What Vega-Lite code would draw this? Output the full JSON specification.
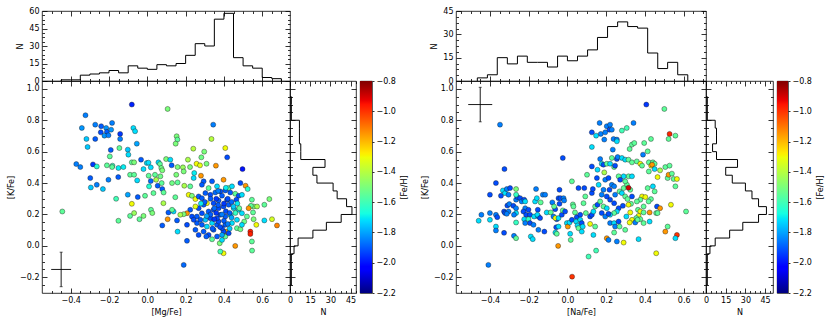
{
"$schema": "https://vega.github.io/schema/vega-lite/v6.json",
"padding": {"left": 7, "top": 6, "right": 2, "bottom": 2},
"config": {
  "font": "DejaVu Sans",
  "view": {"stroke": "black", "strokeWidth": 0.8},
  "axis": {"domain": false, "grid": false, "labelFont": "DejaVu Sans", "labelFontSize": 8, "labelColor": "black", "titleFont": "DejaVu Sans", "titleFontSize": 8, "titleFontWeight": "normal", "titleColor": "black", "tickColor": "black", "tickWidth": 0.8, "labelFlush": false, "labelOverlap": false, "titlePadding": 4, "zindex": 1}
},
"datasets": {
"sL": [
{"x":-0.081,"y":0.900,"f":-1.98},{"x":-0.323,"y":0.832,"f":-1.85},{"x":-0.342,"y":0.751,"f":-1.82},{"x":-0.272,"y":0.772,"f":-1.85},{"x":-0.318,"y":0.681,"f":-1.75},{"x":-0.272,"y":0.681,"f":-1.9},{"x":-0.241,"y":0.762,"f":-1.9},{"x":-0.215,"y":0.751,"f":-1.82},{"x":-0.211,"y":0.726,"f":-1.9},{"x":-0.243,"y":0.723,"f":-1.92},{"x":-0.224,"y":0.702,"f":-1.82},{"x":-0.203,"y":0.704,"f":-1.85},{"x":-0.189,"y":0.740,"f":-1.82},{"x":-0.184,"y":0.783,"f":-1.85},{"x":-0.312,"y":0.630,"f":-1.75},{"x":-0.142,"y":0.713,"f":-1.95},{"x":-0.142,"y":0.681,"f":-1.85},{"x":-0.073,"y":0.751,"f":-1.72},{"x":-0.064,"y":0.730,"f":-1.72},{"x":-0.055,"y":0.651,"f":-1.8},{"x":-0.102,"y":0.613,"f":-1.75},{"x":-0.099,"y":0.581,"f":-1.72},{"x":-0.191,"y":0.611,"f":-1.9},{"x":-0.146,"y":0.623,"f":-1.55},{"x":-0.196,"y":0.570,"f":-1.55},{"x":-0.182,"y":0.511,"f":-1.62},{"x":-0.371,"y":0.521,"f":-1.85},{"x":-0.350,"y":0.502,"f":-1.85},{"x":-0.284,"y":0.519,"f":-1.95},{"x":-0.264,"y":0.506,"f":-1.65},{"x":-0.211,"y":0.513,"f":-1.55},{"x":-0.184,"y":0.502,"f":-1.55},{"x":-0.151,"y":0.496,"f":-1.7},{"x":-0.125,"y":0.502,"f":-1.7},{"x":-0.081,"y":0.532,"f":-1.55},{"x":-0.069,"y":0.532,"f":-1.5},{"x":-0.033,"y":0.549,"f":-1.9},{"x":-0.003,"y":0.528,"f":-1.72},{"x":0.006,"y":0.530,"f":-1.72},
{"x":-0.298,"y":0.432,"f":-1.9},{"x":-0.295,"y":0.372,"f":-1.75},{"x":-0.264,"y":0.389,"f":-1.85},{"x":-0.232,"y":0.362,"f":-1.75},{"x":-0.203,"y":0.421,"f":-1.85},{"x":-0.152,"y":0.438,"f":-1.9},{"x":-0.163,"y":0.300,"f":-1.6},{"x":-0.102,"y":0.326,"f":-1.8},{"x":-0.090,"y":0.453,"f":-1.55},{"x":-0.081,"y":0.268,"f":-1.3},{"x":-0.069,"y":0.453,"f":-1.55},{"x":-0.053,"y":0.417,"f":-1.72},{"x":-0.050,"y":0.311,"f":-1.9},{"x":-0.020,"y":0.489,"f":-1.72},{"x":-0.012,"y":0.319,"f":-1.55},{"x":0.007,"y":0.447,"f":-1.55},{"x":0.018,"y":0.413,"f":-1.88},{"x":0.009,"y":0.379,"f":-1.65},{"x":0.032,"y":0.336,"f":-1.55},{"x":0.040,"y":0.453,"f":-1.55},{"x":0.046,"y":0.421,"f":-1.42},{"x":0.054,"y":0.383,"f":-1.9},{"x":0.068,"y":0.443,"f":-1.52},{"x":0.075,"y":0.400,"f":-1.55},{"x":0.078,"y":0.362,"f":-1.9},{"x":0.084,"y":0.272,"f":-1.42},{"x":0.085,"y":0.340,"f":-1.55},{"x":-0.444,"y":0.219,"f":-1.55},{"x":-0.151,"y":0.160,"f":-1.55},{"x":-0.090,"y":0.191,"f":-1.55},{"x":-0.069,"y":0.209,"f":-1.45},{"x":-0.041,"y":0.170,"f":-1.55},{"x":-0.020,"y":0.191,"f":-1.5},{"x":0.019,"y":0.230,"f":-1.55},{"x":0.026,"y":0.209,"f":-1.5},{"x":0.078,"y":0.130,"f":-1.9},{"x":0.110,"y":0.213,"f":-1.9},{"x":0.106,"y":0.170,"f":-1.15},
{"x":0.106,"y":0.872,"f":-1.5},{"x":0.153,"y":0.698,"f":-1.5},{"x":0.157,"y":0.677,"f":-1.55},{"x":0.148,"y":0.651,"f":-1.5},{"x":0.335,"y":0.681,"f":-1.4},{"x":0.344,"y":0.772,"f":-1.85},{"x":0.240,"y":0.619,"f":-1.4},{"x":0.297,"y":0.600,"f":-1.5},{"x":0.407,"y":0.623,"f":-1.3},{"x":0.417,"y":0.564,"f":-1.92},{"x":0.212,"y":0.549,"f":-1.42},{"x":0.282,"y":0.564,"f":-1.52},{"x":0.098,"y":0.553,"f":-1.5},{"x":0.120,"y":0.549,"f":-1.72},{"x":0.018,"y":0.500,"f":-1.72},{"x":0.058,"y":0.532,"f":-1.72},{"x":0.066,"y":0.521,"f":-1.55},{"x":0.073,"y":0.496,"f":-1.52},{"x":0.078,"y":0.481,"f":-1.5},{"x":0.127,"y":0.513,"f":-1.9},{"x":0.158,"y":0.502,"f":-1.5},{"x":0.186,"y":0.500,"f":-1.45},{"x":0.257,"y":0.523,"f":-1.3},{"x":0.275,"y":0.513,"f":-1.32},{"x":0.309,"y":0.523,"f":-1.5},{"x":0.358,"y":0.511,"f":-1.15},{"x":0.497,"y":0.489,"f":-2.0},{"x":0.223,"y":0.502,"f":-1.5},
{"x":0.151,"y":0.453,"f":-1.5},{"x":0.190,"y":0.474,"f":-1.5},{"x":0.245,"y":0.464,"f":-1.7},{"x":0.280,"y":0.447,"f":-1.15},{"x":0.242,"y":0.432,"f":-1.72},{"x":0.294,"y":0.411,"f":-1.9},{"x":0.158,"y":0.404,"f":-1.55},{"x":0.129,"y":0.400,"f":-1.52},{"x":0.193,"y":0.383,"f":-1.42},{"x":0.224,"y":0.379,"f":-1.55},{"x":0.285,"y":0.389,"f":-1.9},{"x":0.338,"y":0.411,"f":-1.9},{"x":0.398,"y":0.421,"f":-1.15},{"x":0.320,"y":0.368,"f":-1.55},{"x":0.364,"y":0.379,"f":-1.72},{"x":0.425,"y":0.368,"f":-1.55},{"x":0.442,"y":0.379,"f":-1.72},{"x":0.486,"y":0.400,"f":-1.92},{"x":0.513,"y":0.383,"f":-1.15},{"x":0.524,"y":0.362,"f":-1.65},{"x":0.146,"y":0.310,"f":-1.55},{"x":0.216,"y":0.325,"f":-1.3},{"x":0.233,"y":0.319,"f":-1.5},{"x":0.251,"y":0.298,"f":-1.3},{"x":0.268,"y":0.315,"f":-1.9},{"x":0.285,"y":0.304,"f":-1.9},{"x":0.303,"y":0.336,"f":-1.9},{"x":0.329,"y":0.325,"f":-1.92},{"x":0.355,"y":0.340,"f":-1.88},{"x":0.381,"y":0.347,"f":-1.92},{"x":0.407,"y":0.353,"f":-1.9},{"x":0.433,"y":0.340,"f":-1.9},{"x":0.459,"y":0.332,"f":-1.55},{"x":0.477,"y":0.319,"f":-1.92},{"x":0.494,"y":0.325,"f":-1.72},{"x":0.546,"y":0.294,"f":-1.55},{"x":0.555,"y":0.251,"f":-1.5},{"x":0.573,"y":0.251,"f":-1.42},{"x":0.541,"y":0.255,"f":-1.55},{"x":0.611,"y":0.262,"f":-1.55},{"x":0.637,"y":0.298,"f":-1.5},{"x":0.465,"y":0.294,"f":-1.92},{"x":0.416,"y":0.294,"f":-1.92},{"x":0.372,"y":0.289,"f":-1.9},{"x":0.346,"y":0.272,"f":-1.92},{"x":0.311,"y":0.272,"f":-1.3},{"x":0.294,"y":0.262,"f":-1.9},{"x":0.268,"y":0.240,"f":-1.92},{"x":0.251,"y":0.251,"f":-1.32},{"x":0.224,"y":0.230,"f":-1.9},{"x":0.207,"y":0.208,"f":-1.15},{"x":0.190,"y":0.202,"f":-1.5},{"x":0.172,"y":0.198,"f":-1.42},{"x":0.137,"y":0.219,"f":-1.72},{"x":0.129,"y":0.230,"f":-1.55},{"x":0.233,"y":0.187,"f":-1.92},{"x":0.259,"y":0.187,"f":-1.9},{"x":0.285,"y":0.208,"f":-1.92},{"x":0.320,"y":0.219,"f":-1.9},{"x":0.346,"y":0.230,"f":-1.92},{"x":0.372,"y":0.240,"f":-1.92},{"x":0.398,"y":0.251,"f":-1.92},{"x":0.425,"y":0.262,"f":-1.9},{"x":0.451,"y":0.240,"f":-1.72},{"x":0.477,"y":0.230,"f":-1.72},{"x":0.494,"y":0.208,"f":-1.72},{"x":0.529,"y":0.240,"f":-1.15},{"x":0.552,"y":0.213,"f":-1.55},{"x":0.520,"y":0.187,"f":-1.55},{"x":0.506,"y":0.155,"f":-1.52},{"x":0.555,"y":0.170,"f":-1.5},{"x":0.569,"y":0.134,"f":-1.3},{"x":0.611,"y":0.162,"f":-1.72},{"x":0.651,"y":0.170,"f":-1.35},{"x":0.677,"y":0.130,"f":-1.12},{"x":0.546,"y":0.028,"f":-1.55},{"x":0.547,"y":-0.030,"f":-1.55},{"x":0.538,"y":0.091,"f":-0.97},{"x":0.538,"y":0.076,"f":-0.97},{"x":0.459,"y":0.000,"f":-1.15},{"x":0.398,"y":-0.047,"f":-1.3},{"x":0.381,"y":-0.036,"f":-1.6},{"x":0.378,"y":0.017,"f":-1.5},{"x":0.390,"y":0.038,"f":-1.72},{"x":0.407,"y":0.060,"f":-1.55},{"x":0.411,"y":0.091,"f":-1.15},{"x":0.398,"y":0.091,"f":-1.92},{"x":0.425,"y":0.081,"f":-1.92},{"x":0.407,"y":0.134,"f":-1.9},{"x":0.390,"y":0.113,"f":-1.92},{"x":0.364,"y":0.134,"f":-1.9},{"x":0.338,"y":0.145,"f":-1.72},{"x":0.311,"y":0.123,"f":-1.72},{"x":0.285,"y":0.134,"f":-1.9},{"x":0.259,"y":0.145,"f":-1.9},{"x":0.242,"y":0.166,"f":-1.92},{"x":0.207,"y":0.134,"f":-1.92},{"x":0.155,"y":0.162,"f":-1.9},{"x":0.158,"y":0.091,"f":-1.72},{"x":0.207,"y":0.032,"f":-1.9},{"x":0.190,"y":-0.121,"f":-1.88},{"x":0.294,"y":0.091,"f":-1.9},{"x":0.320,"y":0.070,"f":-1.92},{"x":0.346,"y":0.102,"f":-1.9},{"x":0.372,"y":0.155,"f":-1.92},{"x":0.468,"y":0.113,"f":-1.55},{"x":0.486,"y":0.106,"f":-1.52},{"x":0.442,"y":0.145,"f":-1.72},{"x":0.468,"y":0.166,"f":-1.72},{"x":0.494,"y":0.134,"f":-1.72},{"x":0.433,"y":0.198,"f":-1.7},{"x":0.407,"y":0.187,"f":-1.9},{"x":0.381,"y":0.198,"f":-1.92},{"x":0.364,"y":0.176,"f":-1.92},{"x":0.329,"y":0.176,"f":-1.92},{"x":0.303,"y":0.166,"f":-1.75},{"x":0.277,"y":0.166,"f":-1.9},{"x":0.251,"y":0.102,"f":-1.9},{"x":0.268,"y":0.070,"f":-1.92},{"x":0.308,"y":0.060,"f":-1.9},{"x":0.338,"y":0.042,"f":-1.55},{"x":0.364,"y":0.060,"f":-1.9},
{"x":0.36,"y":0.30,"f":-1.95},{"x":0.39,"y":0.32,"f":-1.9},{"x":0.42,"y":0.30,"f":-1.92},{"x":0.44,"y":0.28,"f":-1.88},{"x":0.40,"y":0.27,"f":-1.95},{"x":0.37,"y":0.26,"f":-1.9},{"x":0.35,"y":0.24,"f":-1.88},{"x":0.41,"y":0.22,"f":-1.92},{"x":0.43,"y":0.21,"f":-1.9},{"x":0.39,"y":0.20,"f":-1.85},{"x":0.36,"y":0.21,"f":-1.95},{"x":0.33,"y":0.20,"f":-1.9},{"x":0.31,"y":0.19,"f":-1.8},{"x":0.45,"y":0.25,"f":-1.75},{"x":0.47,"y":0.27,"f":-1.7},{"x":0.40,"y":0.16,"f":-1.9},{"x":0.42,"y":0.14,"f":-1.85},{"x":0.38,"y":0.12,"f":-1.92},{"x":0.34,"y":0.11,"f":-1.9},{"x":0.44,"y":0.18,"f":-1.8},{"x":0.30,"y":0.28,"f":-1.9},{"x":0.28,"y":0.27,"f":-1.7},{"x":0.46,"y":0.21,"f":-1.62},{"x":0.48,"y":0.24,"f":-1.55},{"x":0.37,"y":0.35,"f":-1.85},{"x":0.41,"y":0.37,"f":-1.7},{"x":0.33,"y":0.30,"f":-1.9},{"x":0.43,"y":0.11,"f":-1.75},{"x":0.39,"y":0.07,"f":-1.8},{"x":0.35,"y":0.17,"f":-1.95}
],
"sR": [
{"x":-0.348,"y":0.772,"f":-1.85},{"x":-0.325,"y":0.489,"f":-1.92},{"x":-0.400,"y":0.326,"f":-1.92},{"x":-0.369,"y":0.400,"f":-1.92},{"x":-0.444,"y":0.198,"f":-1.85},{"x":-0.458,"y":0.160,"f":-1.72},{"x":-0.400,"y":0.166,"f":-1.72},{"x":-0.400,"y":0.209,"f":-1.85},{"x":-0.369,"y":0.198,"f":-1.85},{"x":-0.362,"y":0.183,"f":-1.92},{"x":-0.369,"y":0.123,"f":-1.72},{"x":-0.369,"y":0.098,"f":-1.85},{"x":-0.408,"y":-0.121,"f":-1.85},{"x":-0.343,"y":0.319,"f":-1.92},{"x":-0.333,"y":0.353,"f":-1.72},{"x":-0.322,"y":0.336,"f":-1.72},{"x":-0.313,"y":0.362,"f":-1.85},{"x":-0.296,"y":0.368,"f":-1.92},{"x":-0.304,"y":0.326,"f":-1.85},{"x":-0.327,"y":0.219,"f":-1.92},{"x":-0.322,"y":0.209,"f":-1.92},{"x":-0.310,"y":0.257,"f":-1.92},{"x":-0.300,"y":0.266,"f":-1.85},{"x":-0.304,"y":0.219,"f":-1.85},{"x":-0.313,"y":0.204,"f":-1.85},{"x":-0.327,"y":0.083,"f":-1.92},{"x":-0.265,"y":0.294,"f":-1.85},{"x":-0.258,"y":0.311,"f":-1.92},{"x":-0.265,"y":0.326,"f":-1.62},{"x":-0.265,"y":0.362,"f":-1.5},{"x":-0.279,"y":0.255,"f":-1.92},{"x":-0.265,"y":0.240,"f":-1.85},{"x":-0.265,"y":0.209,"f":-1.72},{"x":-0.276,"y":0.198,"f":-1.85},{"x":-0.265,"y":0.149,"f":-1.62},{"x":-0.276,"y":0.064,"f":-1.85},{"x":-0.265,"y":0.049,"f":-1.55},{"x":-0.244,"y":0.304,"f":-1.92},{"x":-0.236,"y":0.283,"f":-1.85},{"x":-0.223,"y":0.294,"f":-1.92},{"x":-0.218,"y":0.283,"f":-1.72},{"x":-0.218,"y":0.240,"f":-1.85},{"x":-0.227,"y":0.219,"f":-1.92},{"x":-0.213,"y":0.198,"f":-1.92},{"x":-0.223,"y":0.170,"f":-1.72},{"x":-0.218,"y":0.145,"f":-1.85},{"x":-0.201,"y":0.230,"f":-1.92},{"x":-0.193,"y":0.198,"f":-1.92},{"x":-0.201,"y":0.170,"f":-1.62},{"x":-0.193,"y":0.145,"f":-1.92},{"x":-0.175,"y":0.134,"f":-1.85},{"x":-0.189,"y":0.060,"f":-1.72},{"x":-0.179,"y":0.043,"f":-1.72},{"x":-0.172,"y":0.187,"f":-1.72},{"x":-0.167,"y":0.283,"f":-1.72},{"x":-0.158,"y":0.304,"f":-1.72},{"x":-0.162,"y":0.362,"f":-1.85},{"x":-0.153,"y":0.230,"f":-1.92},{"x":-0.150,"y":0.187,"f":-1.85},{"x":-0.155,"y":0.198,"f":-1.72},{"x":-0.141,"y":0.177,"f":-1.92},{"x":-0.138,"y":0.277,"f":-1.55},{"x":-0.127,"y":0.326,"f":-1.85},{"x":-0.115,"y":0.326,"f":-1.85},{"x":-0.119,"y":0.091,"f":-1.92},{"x":-0.150,"y":0.102,"f":-1.85},{"x":-0.107,"y":0.213,"f":-1.72},{"x":-0.086,"y":0.213,"f":-1.55},{"x":-0.078,"y":0.277,"f":-1.85},{"x":-0.072,"y":0.187,"f":-1.85},{"x":-0.063,"y":0.234,"f":-1.92},{"x":-0.055,"y":0.170,"f":-1.92},{"x":-0.058,"y":0.119,"f":-1.92},{"x":-0.062,"y":0.085,"f":-1.72},{"x":-0.055,"y":0.077,"f":-1.55},{"x":-0.069,"y":0.251,"f":-1.55},{"x":-0.062,"y":0.177,"f":-1.3},{"x":-0.048,"y":0.000,"f":-1.15},{"x":-0.046,"y":0.177,"f":-1.72},{"x":-0.046,"y":0.123,"f":-1.72},{"x":-0.041,"y":0.357,"f":-1.92},{"x":-0.046,"y":0.304,"f":-1.92},{"x":-0.041,"y":0.268,"f":-1.92},{"x":-0.036,"y":0.304,"f":-1.92},{"x":-0.024,"y":0.560,"f":-1.92},{"x":-0.020,"y":0.304,"f":-1.85},{"x":-0.017,"y":0.289,"f":-1.85},{"x":-0.029,"y":0.198,"f":-1.92},{"x":-0.024,"y":0.226,"f":-1.55},{"x":-0.012,"y":0.219,"f":-1.92},{"x":-0.003,"y":0.145,"f":-1.72},{"x":0.002,"y":0.123,"f":-1.15},{"x":0.011,"y":0.149,"f":-1.72},{"x":0.014,"y":0.077,"f":-1.72},{"x":0.017,"y":0.038,"f":-1.55},{"x":0.023,"y":0.166,"f":-1.92},{"x":0.028,"y":0.264,"f":-1.55},{"x":0.023,"y":0.411,"f":-1.55},{"x":0.031,"y":0.251,"f":-1.55},{"x":0.039,"y":0.213,"f":-1.55},{"x":0.048,"y":0.183,"f":-1.92},{"x":0.045,"y":0.155,"f":-1.72},{"x":0.052,"y":0.130,"f":-1.72},{"x":0.057,"y":0.113,"f":-1.55},{"x":0.066,"y":0.198,"f":-1.92},{"x":0.057,"y":0.368,"f":-1.92},{"x":0.066,"y":0.166,"f":-1.72},{"x":0.074,"y":0.145,"f":-1.92},{"x":0.074,"y":0.091,"f":-1.72},{"x":0.079,"y":0.123,"f":-1.72},{"x":0.083,"y":0.272,"f":-1.55},{"x":0.092,"y":0.315,"f":-1.55},{"x":0.087,"y":0.368,"f":-1.92},{"x":0.095,"y":0.209,"f":-1.55},{"x":0.101,"y":0.453,"f":-1.55},{"x":0.109,"y":-0.068,"f":-1.6},{"x":0.117,"y":0.187,"f":-1.92},{"x":0.117,"y":0.140,"f":-1.3},{"x":0.126,"y":0.198,"f":-1.92},{"x":0.126,"y":0.336,"f":-1.92},{"x":0.131,"y":0.362,"f":-1.92},{"x":0.134,"y":0.219,"f":-1.72},{"x":0.134,"y":0.070,"f":-1.72},{"x":0.143,"y":0.123,"f":-1.55},{"x":0.148,"y":-0.030,"f":-1.6},{"x":0.143,"y":0.251,"f":-1.55},{"x":0.126,"y":0.506,"f":-1.92},{"x":0.126,"y":0.630,"f":-1.72},{"x":0.126,"y":0.723,"f":-1.92},{"x":0.148,"y":0.702,"f":-1.72},{"x":0.155,"y":0.262,"f":-1.92},{"x":0.152,"y":0.432,"f":-1.92},{"x":0.161,"y":0.389,"f":-1.72},{"x":0.166,"y":0.783,"f":-1.85},{"x":0.172,"y":0.713,"f":-1.85},{"x":0.190,"y":0.677,"f":-1.85},{"x":0.195,"y":0.723,"f":-1.85},{"x":0.203,"y":0.762,"f":-1.85},{"x":0.217,"y":0.740,"f":-1.92},{"x":0.220,"y":0.772,"f":-1.85},{"x":0.229,"y":0.740,"f":-1.85},{"x":0.238,"y":0.681,"f":-1.85},{"x":0.255,"y":0.677,"f":-1.85},{"x":0.255,"y":0.666,"f":-1.72},{"x":0.234,"y":0.613,"f":-1.85},{"x":0.169,"y":0.553,"f":-1.85},{"x":0.155,"y":0.485,"f":-1.72},{"x":0.177,"y":0.523,"f":-1.72},{"x":0.186,"y":0.517,"f":-1.92},{"x":0.190,"y":0.468,"f":-1.42},{"x":0.203,"y":0.523,"f":-1.55},{"x":0.220,"y":0.523,"f":-1.72},{"x":0.229,"y":0.560,"f":-1.55},{"x":0.241,"y":0.502,"f":-1.55},{"x":0.246,"y":0.511,"f":-1.92},{"x":0.255,"y":0.553,"f":-1.92},{"x":0.259,"y":0.566,"f":-1.85},{"x":0.281,"y":0.734,"f":-1.6},{"x":0.306,"y":0.751,"f":-1.6},{"x":0.321,"y":0.617,"f":-1.55},{"x":0.333,"y":0.645,"f":-1.55},{"x":0.345,"y":0.655,"f":-1.55},{"x":0.341,"y":0.783,"f":-1.85},{"x":0.407,"y":0.900,"f":-1.95},{"x":0.500,"y":0.872,"f":-1.55},{"x":0.527,"y":0.713,"f":-0.98},{"x":0.522,"y":0.681,"f":-1.55},{"x":0.557,"y":0.702,"f":-1.55},{"x":0.431,"y":0.681,"f":-1.55},{"x":0.414,"y":0.602,"f":-1.55},{"x":0.396,"y":0.655,"f":-1.55},{"x":0.390,"y":0.581,"f":-1.85},{"x":0.281,"y":0.560,"f":-1.72},{"x":0.298,"y":0.549,"f":-1.72},{"x":0.315,"y":0.549,"f":-1.55},{"x":0.333,"y":0.532,"f":-1.55},{"x":0.358,"y":0.538,"f":-1.55},{"x":0.376,"y":0.523,"f":-1.3},{"x":0.385,"y":0.511,"f":-1.55},{"x":0.420,"y":0.532,"f":-1.55},{"x":0.432,"y":0.511,"f":-1.3},{"x":0.441,"y":0.532,"f":-1.55},{"x":0.450,"y":0.523,"f":-1.55},{"x":0.437,"y":0.517,"f":-1.15},{"x":0.420,"y":0.474,"f":-1.55},{"x":0.450,"y":0.489,"f":-1.72},{"x":0.465,"y":0.438,"f":-1.3},{"x":0.478,"y":0.481,"f":-1.42},{"x":0.505,"y":0.502,"f":-1.55},{"x":0.527,"y":0.511,"f":-1.55},{"x":0.517,"y":0.432,"f":-1.55},{"x":0.522,"y":0.453,"f":-1.15},{"x":0.539,"y":0.460,"f":-1.55},{"x":0.548,"y":0.426,"f":-1.55},{"x":0.565,"y":0.426,"f":-1.3},{"x":0.557,"y":0.379,"f":-1.55},{"x":0.612,"y":0.219,"f":-1.55},{"x":0.431,"y":0.298,"f":-1.55},{"x":0.414,"y":0.368,"f":-1.55},{"x":0.441,"y":0.379,"f":-1.72},{"x":0.450,"y":0.347,"f":-1.55},{"x":0.462,"y":0.251,"f":-1.92},{"x":0.478,"y":0.240,"f":-1.15},{"x":0.458,"y":0.209,"f":-1.55},{"x":0.424,"y":0.213,"f":-1.15},{"x":0.419,"y":0.283,"f":-1.55},{"x":0.393,"y":0.251,"f":-1.55},{"x":0.385,"y":0.315,"f":-1.3},{"x":0.402,"y":0.311,"f":-1.3},{"x":0.376,"y":0.294,"f":-1.55},{"x":0.358,"y":0.283,"f":-1.55},{"x":0.364,"y":0.230,"f":-1.55},{"x":0.376,"y":0.219,"f":-1.3},{"x":0.393,"y":0.213,"f":-1.55},{"x":0.367,"y":0.191,"f":-1.3},{"x":0.376,"y":0.170,"f":-1.55},{"x":0.355,"y":0.177,"f":-1.55},{"x":0.333,"y":0.166,"f":-1.3},{"x":0.321,"y":0.149,"f":-1.3},{"x":0.304,"y":0.187,"f":-1.72},{"x":0.324,"y":0.213,"f":-1.3},{"x":0.328,"y":0.268,"f":-1.55},{"x":0.333,"y":0.315,"f":-1.92},{"x":0.324,"y":0.357,"f":-1.55},{"x":0.307,"y":0.389,"f":-1.55},{"x":0.298,"y":0.411,"f":-1.55},{"x":0.315,"y":0.443,"f":-1.55},{"x":0.333,"y":0.443,"f":-1.72},{"x":0.290,"y":0.443,"f":-1.72},{"x":0.264,"y":0.443,"f":-1.55},{"x":0.272,"y":0.421,"f":-1.92},{"x":0.290,"y":0.368,"f":-1.55},{"x":0.269,"y":0.347,"f":-1.55},{"x":0.281,"y":0.336,"f":-1.72},{"x":0.298,"y":0.315,"f":-1.55},{"x":0.310,"y":0.298,"f":-1.55},{"x":0.315,"y":0.262,"f":-1.3},{"x":0.286,"y":0.255,"f":-1.92},{"x":0.264,"y":0.240,"f":-1.92},{"x":0.255,"y":0.219,"f":-1.72},{"x":0.241,"y":0.209,"f":-1.55},{"x":0.220,"y":0.198,"f":-1.72},{"x":0.241,"y":0.272,"f":-1.92},{"x":0.220,"y":0.294,"f":-1.92},{"x":0.203,"y":0.315,"f":-1.92},{"x":0.217,"y":0.357,"f":-1.92},{"x":0.246,"y":0.326,"f":-1.85},{"x":0.229,"y":0.389,"f":-1.85},{"x":0.241,"y":0.379,"f":-1.85},{"x":0.195,"y":0.421,"f":-1.85},{"x":0.212,"y":0.432,"f":-1.92},{"x":0.186,"y":0.357,"f":-1.85},{"x":0.177,"y":0.326,"f":-1.85},{"x":0.169,"y":0.283,"f":-1.55},{"x":0.186,"y":0.251,"f":-1.55},{"x":0.203,"y":0.240,"f":-1.72},{"x":0.177,"y":0.209,"f":-1.92},{"x":0.195,"y":0.187,"f":-1.85},{"x":0.212,"y":0.204,"f":-1.92},{"x":0.220,"y":0.145,"f":-1.85},{"x":0.241,"y":0.145,"f":-1.72},{"x":0.264,"y":0.155,"f":-1.92},{"x":0.246,"y":0.123,"f":-1.85},{"x":0.269,"y":0.123,"f":-1.55},{"x":0.241,"y":0.085,"f":-1.55},{"x":0.203,"y":0.049,"f":-1.15},{"x":0.212,"y":0.038,"f":-1.85},{"x":0.255,"y":0.028,"f":-1.85},{"x":0.290,"y":0.021,"f":-1.3},{"x":0.298,"y":0.102,"f":-1.55},{"x":0.350,"y":0.149,"f":-1.85},{"x":0.362,"y":0.166,"f":-1.55},{"x":0.367,"y":0.043,"f":-1.72},{"x":0.393,"y":0.145,"f":-1.55},{"x":0.424,"y":0.155,"f":-1.72},{"x":0.465,"y":0.209,"f":-1.55},{"x":0.458,"y":-0.047,"f":-1.3},{"x":0.505,"y":0.091,"f":-1.15},{"x":0.517,"y":0.123,"f":-1.55},{"x":0.565,"y":0.070,"f":-1.0},{"x":0.557,"y":0.049,"f":-1.72},{"x":0.534,"y":0.262,"f":-1.3},{"x":0.024,"y":-0.196,"f":-1.0},{"x":0.315,"y":0.370,"f":-0.9}
],
"hTL": [{"i":0,"e":-0.45,"n":0},{"i":1,"e":-0.45,"n":1},{"i":2,"e":-0.40,"n":1},{"i":3,"e":-0.35,"n":5},{"i":4,"e":-0.30,"n":6},{"i":5,"e":-0.25,"n":7},{"i":6,"e":-0.20,"n":9},{"i":7,"e":-0.15,"n":7},{"i":8,"e":-0.10,"n":13},{"i":9,"e":-0.05,"n":11},{"i":10,"e":0.00,"n":10},{"i":11,"e":0.05,"n":14},{"i":12,"e":0.10,"n":13},{"i":13,"e":0.15,"n":15},{"i":14,"e":0.20,"n":22},{"i":15,"e":0.25,"n":32},{"i":16,"e":0.30,"n":30},{"i":17,"e":0.35,"n":53},{"i":18,"e":0.40,"n":58},{"i":19,"e":0.45,"n":20},{"i":20,"e":0.50,"n":13},{"i":21,"e":0.55,"n":11},{"i":22,"e":0.60,"n":3},{"i":23,"e":0.65,"n":2},{"i":24,"e":0.70,"n":0}],
"hTR": [{"i":0,"e":-0.465,"n":0},{"i":1,"e":-0.465,"n":2},{"i":2,"e":-0.413,"n":4},{"i":3,"e":-0.362,"n":15},{"i":4,"e":-0.310,"n":11},{"i":5,"e":-0.258,"n":16},{"i":6,"e":-0.207,"n":12},{"i":7,"e":-0.155,"n":12},{"i":8,"e":-0.103,"n":9},{"i":9,"e":-0.051,"n":16},{"i":10,"e":0.000,"n":13},{"i":11,"e":0.052,"n":16},{"i":12,"e":0.104,"n":20},{"i":13,"e":0.155,"n":28},{"i":14,"e":0.207,"n":35},{"i":15,"e":0.259,"n":38},{"i":16,"e":0.311,"n":35},{"i":17,"e":0.362,"n":34},{"i":18,"e":0.414,"n":18},{"i":19,"e":0.466,"n":8},{"i":20,"e":0.517,"n":12},{"i":21,"e":0.569,"n":4},{"i":22,"e":0.621,"n":0}],
"hRL": [{"i":0,"e":-0.25,"n":0},{"i":1,"e":-0.25,"n":1},{"i":2,"e":-0.20,"n":1},{"i":3,"e":-0.15,"n":1},{"i":4,"e":-0.10,"n":1},{"i":5,"e":-0.05,"n":3},{"i":6,"e":0.00,"n":6},{"i":7,"e":0.05,"n":17},{"i":8,"e":0.10,"n":27},{"i":9,"e":0.15,"n":38},{"i":10,"e":0.20,"n":46},{"i":11,"e":0.25,"n":42},{"i":12,"e":0.30,"n":35},{"i":13,"e":0.35,"n":32},{"i":14,"e":0.40,"n":20},{"i":15,"e":0.45,"n":17},{"i":16,"e":0.50,"n":26},{"i":17,"e":0.55,"n":8},{"i":18,"e":0.60,"n":8},{"i":19,"e":0.65,"n":7},{"i":20,"e":0.70,"n":7},{"i":21,"e":0.75,"n":7},{"i":22,"e":0.80,"n":1},{"i":23,"e":0.85,"n":1},{"i":24,"e":0.90,"n":1},{"i":25,"e":0.95,"n":0}],
"hRR": [{"i":0,"e":-0.25,"n":0},{"i":1,"e":-0.25,"n":1},{"i":2,"e":-0.20,"n":1},{"i":3,"e":-0.15,"n":1},{"i":4,"e":-0.10,"n":1},{"i":5,"e":-0.05,"n":3},{"i":6,"e":0.00,"n":7},{"i":7,"e":0.05,"n":18},{"i":8,"e":0.10,"n":28},{"i":9,"e":0.15,"n":40},{"i":10,"e":0.20,"n":46},{"i":11,"e":0.25,"n":40},{"i":12,"e":0.30,"n":35},{"i":13,"e":0.35,"n":30},{"i":14,"e":0.40,"n":20},{"i":15,"e":0.45,"n":15},{"i":16,"e":0.50,"n":24},{"i":17,"e":0.55,"n":8},{"i":18,"e":0.60,"n":5},{"i":19,"e":0.65,"n":8},{"i":20,"e":0.70,"n":8},{"i":21,"e":0.75,"n":7},{"i":22,"e":0.80,"n":1},{"i":23,"e":0.85,"n":1},{"i":24,"e":0.90,"n":1},{"i":25,"e":0.95,"n":0}],
"ebL": [{"x":-0.45,"y":-0.15,"xlo":-0.502,"xhi":-0.398,"ylo":-0.26,"yhi":-0.04}],
"ebR": [{"x":-0.45,"y":0.9,"xlo":-0.512,"xhi":-0.388,"ylo":0.79,"yhi":1.01}],
"cb": [{"lo":-2.2,"hi":-0.8}]
},
"resolve": {"scale": {"x": "independent", "y": "independent", "color": "independent"}},
"columns": 9,
"spacing": {"row": 0, "column": 0},
"bounds": "flush",
"align": "each",
"concat": [
{
"width": 248, "height": 70,
"resolve": {"axis": {"x": "independent", "y": "independent"}},
"layer": [
{"data": {"name": "hTL"}, "mark": {"type": "line", "interpolate": "step-after", "color": "black", "strokeWidth": 1},
 "encoding": {
  "x": {"field": "e", "type": "quantitative", "scale": {"domain": [-0.55, 0.745], "nice": false, "zero": false}, "axis": {"orient": "bottom", "values": [-0.4,-0.2,0,0.2,0.4,0.6], "labels": false, "tickSize": -5, "title": null}},
  "y": {"field": "n", "type": "quantitative", "scale": {"domain": [0, 60], "nice": false}, "axis": {"orient": "left", "values": [0,15,30,45,60], "tickSize": -5, "labelPadding": 8, "title": "N"}},
  "order": {"field": "i", "type": "quantitative"}}},
{"data": {"name": "hTL"}, "mark": {"type": "point", "opacity": 0},
 "encoding": {
  "x": {"field": "e", "type": "quantitative", "axis": {"orient": "bottom", "values": [-0.5,-0.45,-0.35,-0.3,-0.25,-0.15,-0.1,-0.05,0.05,0.1,0.15,0.25,0.3,0.35,0.45,0.5,0.55,0.65,0.7], "labels": false, "tickSize": -2.5, "title": null}},
  "y": {"field": "n", "type": "quantitative", "axis": {"orient": "left", "values": [3.75,7.5,11.25,18.75,22.5,26.25,33.75,37.5,41.25,48.75,52.5,56.25], "labels": false, "tickSize": -2.5, "title": null}}}},
{"data": {"name": "hTL"}, "mark": {"type": "point", "opacity": 0},
 "encoding": {
  "x": {"field": "e", "type": "quantitative", "axis": {"orient": "top", "values": [-0.4,-0.2,0,0.2,0.4,0.6], "labels": false, "tickSize": -5, "title": null}},
  "y": {"field": "n", "type": "quantitative", "axis": {"orient": "right", "values": [0,15,30,45,60], "labels": false, "tickSize": -5, "title": null}}}},
{"data": {"name": "hTL"}, "mark": {"type": "point", "opacity": 0},
 "encoding": {
  "x": {"field": "e", "type": "quantitative", "axis": {"orient": "top", "values": [-0.5,-0.45,-0.35,-0.3,-0.25,-0.15,-0.1,-0.05,0.05,0.1,0.15,0.25,0.3,0.35,0.45,0.5,0.55,0.65,0.7], "labels": false, "tickSize": -2.5, "title": null}},
  "y": {"field": "n", "type": "quantitative", "axis": {"orient": "right", "values": [3.75,7.5,11.25,18.75,22.5,26.25,33.75,37.5,41.25,48.75,52.5,56.25], "labels": false, "tickSize": -2.5, "title": null}}}}
]
},
{"width": 1, "height": 1, "view": {"stroke": null}, "data": {"name": "cb"}, "mark": {"type": "point", "opacity": 0}, "encoding": {}},
{"width": 4, "height": 1, "view": {"stroke": null}, "data": {"name": "cb"}, "mark": {"type": "point", "opacity": 0}, "encoding": {}},
{"width": 1, "height": 1, "view": {"stroke": null}, "data": {"name": "cb"}, "mark": {"type": "point", "opacity": 0}, "encoding": {}},
{"width": 84, "height": 1, "view": {"stroke": null}, "data": {"name": "cb"}, "mark": {"type": "point", "opacity": 0}, "encoding": {}},
{
"width": 250, "height": 70,
"resolve": {"axis": {"x": "independent", "y": "independent"}},
"layer": [
{"data": {"name": "hTR"}, "mark": {"type": "line", "interpolate": "step-after", "color": "black", "strokeWidth": 1},
 "encoding": {
  "x": {"field": "e", "type": "quantitative", "scale": {"domain": [-0.575, 0.715], "nice": false, "zero": false}, "axis": {"orient": "bottom", "values": [-0.4,-0.2,0,0.2,0.4,0.6], "labels": false, "tickSize": -5, "title": null}},
  "y": {"field": "n", "type": "quantitative", "scale": {"domain": [0, 45], "nice": false}, "axis": {"orient": "left", "values": [0,15,30,45], "tickSize": -5, "labelPadding": 8, "title": "N"}},
  "order": {"field": "i", "type": "quantitative"}}},
{"data": {"name": "hTR"}, "mark": {"type": "point", "opacity": 0},
 "encoding": {
  "x": {"field": "e", "type": "quantitative", "axis": {"orient": "bottom", "values": [-0.55,-0.5,-0.45,-0.35,-0.3,-0.25,-0.15,-0.1,-0.05,0.05,0.1,0.15,0.25,0.3,0.35,0.45,0.5,0.55,0.65,0.7], "labels": false, "tickSize": -2.5, "title": null}},
  "y": {"field": "n", "type": "quantitative", "axis": {"orient": "left", "values": [3.75,7.5,11.25,18.75,22.5,26.25,33.75,37.5,41.25], "labels": false, "tickSize": -2.5, "title": null}}}},
{"data": {"name": "hTR"}, "mark": {"type": "point", "opacity": 0},
 "encoding": {
  "x": {"field": "e", "type": "quantitative", "axis": {"orient": "top", "values": [-0.4,-0.2,0,0.2,0.4,0.6], "labels": false, "tickSize": -5, "title": null}},
  "y": {"field": "n", "type": "quantitative", "axis": {"orient": "right", "values": [0,15,30,45], "labels": false, "tickSize": -5, "title": null}}}},
{"data": {"name": "hTR"}, "mark": {"type": "point", "opacity": 0},
 "encoding": {
  "x": {"field": "e", "type": "quantitative", "axis": {"orient": "top", "values": [-0.55,-0.5,-0.45,-0.35,-0.3,-0.25,-0.15,-0.1,-0.05,0.05,0.1,0.15,0.25,0.3,0.35,0.45,0.5,0.55,0.65,0.7], "labels": false, "tickSize": -2.5, "title": null}},
  "y": {"field": "n", "type": "quantitative", "axis": {"orient": "right", "values": [3.75,7.5,11.25,18.75,22.5,26.25,33.75,37.5,41.25], "labels": false, "tickSize": -2.5, "title": null}}}}
]
},
{"width": 1, "height": 1, "view": {"stroke": null}, "data": {"name": "cb"}, "mark": {"type": "point", "opacity": 0}, "encoding": {}},
{"width": 4, "height": 1, "view": {"stroke": null}, "data": {"name": "cb"}, "mark": {"type": "point", "opacity": 0}, "encoding": {}},
{"width": 1, "height": 1, "view": {"stroke": null}, "data": {"name": "cb"}, "mark": {"type": "point", "opacity": 0}, "encoding": {}},
{
"width": 248, "height": 212,
"resolve": {"axis": {"x": "independent", "y": "independent"}},
"layer": [
{"data": {"name": "sL"}, "mark": {"type": "circle", "size": 25, "opacity": 1, "stroke": "#1a1a1a", "strokeWidth": 0.4},
 "encoding": {
  "x": {"field": "x", "type": "quantitative", "scale": {"domain": [-0.55, 0.745], "nice": false, "zero": false}, "axis": {"orient": "bottom", "values": [-0.4,-0.2,0,0.2,0.4,0.6], "format": ".1f", "tickSize": -5, "labelPadding": 8, "title": "[Mg/Fe]"}},
  "y": {"field": "y", "type": "quantitative", "scale": {"domain": [-0.3, 1.05], "nice": false, "zero": false}, "axis": {"orient": "left", "values": [-0.2,0,0.2,0.4,0.6,0.8,1.0], "format": ".1f", "tickSize": -5, "labelPadding": 8, "title": "[K/Fe]"}},
  "color": {"field": "f", "type": "quantitative", "legend": null, "scale": {"type": "linear", "domain": [-2.2,-2.046,-2.025,-1.724,-1.71,-1.675,-1.304,-1.29,-1.276,-0.954,-0.926,-0.8], "range": ["#000080","#0000ff","#0000ff","#00dbff","#00e6f7","#15ffe2","#eeff08","#f7f500","#ffec00","#ff1300","#e80000","#800000"], "interpolate": "rgb"}}}},
{"data": {"name": "ebL"}, "mark": {"type": "rule", "color": "black", "strokeWidth": 0.9},
 "encoding": {"x": {"field": "xlo", "type": "quantitative", "axis": null}, "x2": {"field": "xhi"}, "y": {"field": "y", "type": "quantitative", "axis": null}}},
{"data": {"name": "ebL"}, "mark": {"type": "rule", "color": "black", "strokeWidth": 0.9},
 "encoding": {"x": {"field": "x", "type": "quantitative", "axis": null}, "y": {"field": "ylo", "type": "quantitative", "axis": null}, "y2": {"field": "yhi"}}},
{"data": {"name": "ebL"}, "transform": [{"fold": ["ylo", "yhi"], "as": ["k", "v"]}], "mark": {"type": "tick", "orient": "horizontal", "size": 3, "thickness": 0.9, "color": "black"},
 "encoding": {"x": {"field": "x", "type": "quantitative", "axis": null}, "y": {"field": "v", "type": "quantitative", "axis": null}}},
{"data": {"name": "ebL"}, "mark": {"type": "point", "opacity": 0},
 "encoding": {
  "x": {"field": "x", "type": "quantitative", "axis": {"orient": "bottom", "values": [-0.5,-0.45,-0.35,-0.3,-0.25,-0.15,-0.1,-0.05,0.05,0.1,0.15,0.25,0.3,0.35,0.45,0.5,0.55,0.65,0.7], "labels": false, "tickSize": -2.5, "title": null}},
  "y": {"field": "y", "type": "quantitative", "axis": {"orient": "left", "values": [-0.25,-0.15,-0.1,-0.05,0.05,0.1,0.15,0.25,0.3,0.35,0.45,0.5,0.55,0.65,0.7,0.75,0.85,0.9,0.95], "labels": false, "tickSize": -2.5, "title": null}}}},
{"data": {"name": "ebL"}, "mark": {"type": "point", "opacity": 0},
 "encoding": {
  "x": {"field": "x", "type": "quantitative", "axis": {"orient": "top", "values": [-0.4,-0.2,0,0.2,0.4,0.6], "labels": false, "tickSize": -5, "title": null}},
  "y": {"field": "y", "type": "quantitative", "axis": {"orient": "right", "values": [-0.2,0,0.2,0.4,0.6,0.8,1.0], "labels": false, "tickSize": -5, "title": null}}}},
{"data": {"name": "ebL"}, "mark": {"type": "point", "opacity": 0},
 "encoding": {
  "x": {"field": "x", "type": "quantitative", "axis": {"orient": "top", "values": [-0.5,-0.45,-0.35,-0.3,-0.25,-0.15,-0.1,-0.05,0.05,0.1,0.15,0.25,0.3,0.35,0.45,0.5,0.55,0.65,0.7], "labels": false, "tickSize": -2.5, "title": null}},
  "y": {"field": "y", "type": "quantitative", "axis": {"orient": "right", "values": [-0.25,-0.15,-0.1,-0.05,0.05,0.1,0.15,0.25,0.3,0.35,0.45,0.5,0.55,0.65,0.7,0.75,0.85,0.9,0.95], "labels": false, "tickSize": -2.5, "title": null}}}}
]
},
{
"width": 66, "height": 212,
"resolve": {"axis": {"x": "independent", "y": "independent"}},
"layer": [
{"data": {"name": "hRL"}, "mark": {"type": "line", "interpolate": "step-before", "color": "black", "strokeWidth": 1},
 "encoding": {
  "x": {"field": "n", "type": "quantitative", "scale": {"domain": [0, 49], "nice": false}, "axis": {"orient": "bottom", "values": [0,15,30,45], "tickSize": -5, "labelPadding": 8, "title": "N"}},
  "y": {"field": "e", "type": "quantitative", "scale": {"domain": [-0.3, 1.05], "nice": false, "zero": false}, "axis": {"orient": "left", "values": [-0.2,0,0.2,0.4,0.6,0.8,1.0], "labels": false, "tickSize": -5, "title": null}},
  "order": {"field": "i", "type": "quantitative"}}},
{"data": {"name": "hRL"}, "mark": {"type": "point", "opacity": 0},
 "encoding": {
  "x": {"field": "n", "type": "quantitative", "axis": {"orient": "bottom", "values": [3.75,7.5,11.25,18.75,22.5,26.25,33.75,37.5,41.25,48.75], "labels": false, "tickSize": -2.5, "title": null}},
  "y": {"field": "e", "type": "quantitative", "axis": {"orient": "left", "values": [-0.25,-0.15,-0.1,-0.05,0.05,0.1,0.15,0.25,0.3,0.35,0.45,0.5,0.55,0.65,0.7,0.75,0.85,0.9,0.95], "labels": false, "tickSize": -2.5, "title": null}}}},
{"data": {"name": "hRL"}, "mark": {"type": "point", "opacity": 0},
 "encoding": {
  "x": {"field": "n", "type": "quantitative", "axis": {"orient": "top", "values": [0,15,30,45], "labels": false, "tickSize": -5, "title": null}},
  "y": {"field": "e", "type": "quantitative", "axis": {"orient": "right", "values": [-0.2,0,0.2,0.4,0.6,0.8,1.0], "labels": false, "tickSize": -5, "title": null}}}},
{"data": {"name": "hRL"}, "mark": {"type": "point", "opacity": 0},
 "encoding": {
  "x": {"field": "n", "type": "quantitative", "axis": {"orient": "top", "values": [3.75,7.5,11.25,18.75,22.5,26.25,33.75,37.5,41.25,48.75], "labels": false, "tickSize": -2.5, "title": null}},
  "y": {"field": "e", "type": "quantitative", "axis": {"orient": "right", "values": [-0.25,-0.15,-0.1,-0.05,0.05,0.1,0.15,0.25,0.3,0.35,0.45,0.5,0.55,0.65,0.7,0.75,0.85,0.9,0.95], "labels": false, "tickSize": -2.5, "title": null}}}}
]
},
{"width": 1, "height": 1, "view": {"stroke": null}, "data": {"name": "cb"}, "mark": {"type": "point", "opacity": 0}, "encoding": {}},
{
"width": 12, "height": 212,
"data": {"name": "cb"},
"mark": {"type": "rect", "fill": {"gradient": "linear", "x1": 0, "y1": 1, "x2": 0, "y2": 0, "stops": [{"offset": 0, "color": "#000080"}, {"offset": 0.11, "color": "#0000ff"}, {"offset": 0.125, "color": "#0000ff"}, {"offset": 0.34, "color": "#00dbff"}, {"offset": 0.35, "color": "#00e6f7"}, {"offset": 0.375, "color": "#15ffe2"}, {"offset": 0.64, "color": "#eeff08"}, {"offset": 0.65, "color": "#f7f500"}, {"offset": 0.66, "color": "#ffec00"}, {"offset": 0.89, "color": "#ff1300"}, {"offset": 0.91, "color": "#e80000"}, {"offset": 1, "color": "#800000"}]}},
"encoding": {
 "y": {"field": "lo", "type": "quantitative", "scale": {"domain": [-2.2, -0.8], "nice": false, "zero": false}, "axis": {"orient": "right", "values": [-2.2,-2.0,-1.8,-1.6,-1.4,-1.2,-1.0,-0.8], "format": ".1f", "tickSize": 2, "labelPadding": 2, "title": "[Fe/H]", "titleAngle": 270, "titleBaseline": "top", "titlePadding": 5}},
 "y2": {"field": "hi"}}
},
{"width": 1, "height": 1, "view": {"stroke": null}, "data": {"name": "cb"}, "mark": {"type": "point", "opacity": 0}, "encoding": {}},
{
"width": 250, "height": 212,
"resolve": {"axis": {"x": "independent", "y": "independent"}},
"layer": [
{"data": {"name": "sR"}, "mark": {"type": "circle", "size": 25, "opacity": 1, "stroke": "#1a1a1a", "strokeWidth": 0.4},
 "encoding": {
  "x": {"field": "x", "type": "quantitative", "scale": {"domain": [-0.575, 0.715], "nice": false, "zero": false}, "axis": {"orient": "bottom", "values": [-0.4,-0.2,0,0.2,0.4,0.6], "format": ".1f", "tickSize": -5, "labelPadding": 8, "title": "[Na/Fe]"}},
  "y": {"field": "y", "type": "quantitative", "scale": {"domain": [-0.3, 1.05], "nice": false, "zero": false}, "axis": {"orient": "left", "values": [-0.2,0,0.2,0.4,0.6,0.8,1.0], "format": ".1f", "tickSize": -5, "labelPadding": 8, "title": "[K/Fe]"}},
  "color": {"field": "f", "type": "quantitative", "legend": null, "scale": {"type": "linear", "domain": [-2.2,-2.046,-2.025,-1.724,-1.71,-1.675,-1.304,-1.29,-1.276,-0.954,-0.926,-0.8], "range": ["#000080","#0000ff","#0000ff","#00dbff","#00e6f7","#15ffe2","#eeff08","#f7f500","#ffec00","#ff1300","#e80000","#800000"], "interpolate": "rgb"}}}},
{"data": {"name": "ebR"}, "mark": {"type": "rule", "color": "black", "strokeWidth": 0.9},
 "encoding": {"x": {"field": "xlo", "type": "quantitative", "axis": null}, "x2": {"field": "xhi"}, "y": {"field": "y", "type": "quantitative", "axis": null}}},
{"data": {"name": "ebR"}, "mark": {"type": "rule", "color": "black", "strokeWidth": 0.9},
 "encoding": {"x": {"field": "x", "type": "quantitative", "axis": null}, "y": {"field": "ylo", "type": "quantitative", "axis": null}, "y2": {"field": "yhi"}}},
{"data": {"name": "ebR"}, "transform": [{"fold": ["ylo", "yhi"], "as": ["k", "v"]}], "mark": {"type": "tick", "orient": "horizontal", "size": 3, "thickness": 0.9, "color": "black"},
 "encoding": {"x": {"field": "x", "type": "quantitative", "axis": null}, "y": {"field": "v", "type": "quantitative", "axis": null}}},
{"data": {"name": "ebR"}, "mark": {"type": "point", "opacity": 0},
 "encoding": {
  "x": {"field": "x", "type": "quantitative", "axis": {"orient": "bottom", "values": [-0.55,-0.5,-0.45,-0.35,-0.3,-0.25,-0.15,-0.1,-0.05,0.05,0.1,0.15,0.25,0.3,0.35,0.45,0.5,0.55,0.65,0.7], "labels": false, "tickSize": -2.5, "title": null}},
  "y": {"field": "y", "type": "quantitative", "axis": {"orient": "left", "values": [-0.25,-0.15,-0.1,-0.05,0.05,0.1,0.15,0.25,0.3,0.35,0.45,0.5,0.55,0.65,0.7,0.75,0.85,0.9,0.95], "labels": false, "tickSize": -2.5, "title": null}}}},
{"data": {"name": "ebR"}, "mark": {"type": "point", "opacity": 0},
 "encoding": {
  "x": {"field": "x", "type": "quantitative", "axis": {"orient": "top", "values": [-0.4,-0.2,0,0.2,0.4,0.6], "labels": false, "tickSize": -5, "title": null}},
  "y": {"field": "y", "type": "quantitative", "axis": {"orient": "right", "values": [-0.2,0,0.2,0.4,0.6,0.8,1.0], "labels": false, "tickSize": -5, "title": null}}}},
{"data": {"name": "ebR"}, "mark": {"type": "point", "opacity": 0},
 "encoding": {
  "x": {"field": "x", "type": "quantitative", "axis": {"orient": "top", "values": [-0.55,-0.5,-0.45,-0.35,-0.3,-0.25,-0.15,-0.1,-0.05,0.05,0.1,0.15,0.25,0.3,0.35,0.45,0.5,0.55,0.65,0.7], "labels": false, "tickSize": -2.5, "title": null}},
  "y": {"field": "y", "type": "quantitative", "axis": {"orient": "right", "values": [-0.25,-0.15,-0.1,-0.05,0.05,0.1,0.15,0.25,0.3,0.35,0.45,0.5,0.55,0.65,0.7,0.75,0.85,0.9,0.95], "labels": false, "tickSize": -2.5, "title": null}}}}
]
},
{
"width": 67, "height": 212,
"resolve": {"axis": {"x": "independent", "y": "independent"}},
"layer": [
{"data": {"name": "hRR"}, "mark": {"type": "line", "interpolate": "step-before", "color": "black", "strokeWidth": 1},
 "encoding": {
  "x": {"field": "n", "type": "quantitative", "scale": {"domain": [0, 51], "nice": false}, "axis": {"orient": "bottom", "values": [0,15,30,45], "tickSize": -5, "labelPadding": 8, "title": "N"}},
  "y": {"field": "e", "type": "quantitative", "scale": {"domain": [-0.3, 1.05], "nice": false, "zero": false}, "axis": {"orient": "left", "values": [-0.2,0,0.2,0.4,0.6,0.8,1.0], "labels": false, "tickSize": -5, "title": null}},
  "order": {"field": "i", "type": "quantitative"}}},
{"data": {"name": "hRR"}, "mark": {"type": "point", "opacity": 0},
 "encoding": {
  "x": {"field": "n", "type": "quantitative", "axis": {"orient": "bottom", "values": [3.75,7.5,11.25,18.75,22.5,26.25,33.75,37.5,41.25,48.75], "labels": false, "tickSize": -2.5, "title": null}},
  "y": {"field": "e", "type": "quantitative", "axis": {"orient": "left", "values": [-0.25,-0.15,-0.1,-0.05,0.05,0.1,0.15,0.25,0.3,0.35,0.45,0.5,0.55,0.65,0.7,0.75,0.85,0.9,0.95], "labels": false, "tickSize": -2.5, "title": null}}}},
{"data": {"name": "hRR"}, "mark": {"type": "point", "opacity": 0},
 "encoding": {
  "x": {"field": "n", "type": "quantitative", "axis": {"orient": "top", "values": [0,15,30,45], "labels": false, "tickSize": -5, "title": null}},
  "y": {"field": "e", "type": "quantitative", "axis": {"orient": "right", "values": [-0.2,0,0.2,0.4,0.6,0.8,1.0], "labels": false, "tickSize": -5, "title": null}}}},
{"data": {"name": "hRR"}, "mark": {"type": "point", "opacity": 0},
 "encoding": {
  "x": {"field": "n", "type": "quantitative", "axis": {"orient": "top", "values": [3.75,7.5,11.25,18.75,22.5,26.25,33.75,37.5,41.25,48.75], "labels": false, "tickSize": -2.5, "title": null}},
  "y": {"field": "e", "type": "quantitative", "axis": {"orient": "right", "values": [-0.25,-0.15,-0.1,-0.05,0.05,0.1,0.15,0.25,0.3,0.35,0.45,0.5,0.55,0.65,0.7,0.75,0.85,0.9,0.95], "labels": false, "tickSize": -2.5, "title": null}}}}
]
},
{"width": 1, "height": 1, "view": {"stroke": null}, "data": {"name": "cb"}, "mark": {"type": "point", "opacity": 0}, "encoding": {}},
{
"width": 11, "height": 212,
"data": {"name": "cb"},
"mark": {"type": "rect", "fill": {"gradient": "linear", "x1": 0, "y1": 1, "x2": 0, "y2": 0, "stops": [{"offset": 0, "color": "#000080"}, {"offset": 0.11, "color": "#0000ff"}, {"offset": 0.125, "color": "#0000ff"}, {"offset": 0.34, "color": "#00dbff"}, {"offset": 0.35, "color": "#00e6f7"}, {"offset": 0.375, "color": "#15ffe2"}, {"offset": 0.64, "color": "#eeff08"}, {"offset": 0.65, "color": "#f7f500"}, {"offset": 0.66, "color": "#ffec00"}, {"offset": 0.89, "color": "#ff1300"}, {"offset": 0.91, "color": "#e80000"}, {"offset": 1, "color": "#800000"}]}},
"encoding": {
 "y": {"field": "lo", "type": "quantitative", "scale": {"domain": [-2.2, -0.8], "nice": false, "zero": false}, "axis": {"orient": "right", "values": [-2.2,-2.0,-1.8,-1.6,-1.4,-1.2,-1.0,-0.8], "format": ".1f", "tickSize": 2, "labelPadding": 2, "title": "[Fe/H]", "titleAngle": 270, "titleBaseline": "top", "titlePadding": 5}},
 "y2": {"field": "hi"}}
}
]
}
